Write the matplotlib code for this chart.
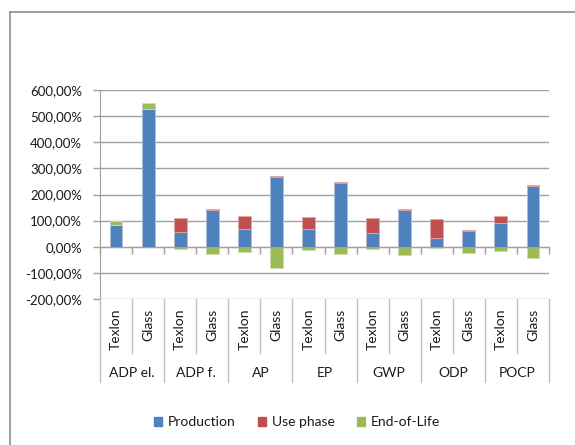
import matplotlib
matplotlib.use("Agg")
import matplotlib.pyplot as plt
from matplotlib.patches import Patch
from matplotlib.lines import Line2D
import matplotlib.transforms as mtransforms

plt.rcParams['font.family'] = ['Lato', 'DejaVu Sans']

# data (in %)
groups = ["ADP el.", "ADP f.", "AP", "EP", "GWP", "ODP", "POCP"]
variants = ["Texlon", "Glass"]
production = [82, 527, 58, 142, 69, 267, 69, 244, 54, 142, 32, 61, 89, 232]
use_phase = [3, 1, 52, 3, 49, 3, 45, 4, 56, 3, 74, 4, 27, 4]
end_of_life = [15, 22, -10, -29, -19, -82, -13, -27, -10, -33, -5, -24, -16, -43]

c_prod = "#4F81BD"
c_use = "#C0504D"
c_eol = "#9BBB59"
grid_c = "#A0A0A0"
sep_c = "#BFBFBF"
txt_c = "#1A1A1A"
fs = 10

W, H = 575, 445
fig = plt.figure(figsize=(W / 100, H / 100), dpi=100)
ax = fig.add_axes([100 / W, (H - 299) / H, 449 / W, 209 / H])

n = len(production)
x = [i + 0.5 for i in range(n)]
bw = 0.4
ax.bar(x, production, bw, color=c_prod, edgecolor="#A7C0DE", linewidth=0.6, zorder=3)
ax.bar(x, use_phase, bw, bottom=production, color=c_use, edgecolor="#E0A8A7",
       linewidth=0.6, zorder=3)
eol_bottom = [p + u if e > 0 else 0 for p, u, e in zip(production, use_phase, end_of_life)]
ax.bar(x, end_of_life, bw, bottom=eol_bottom, color=c_eol, edgecolor="#CDDDAC",
       linewidth=0.6, zorder=3)

ax.set_xlim(0, n)
ax.set_ylim(-200, 600)
ax.set_yticks(range(-200, 601, 100))
ax.set_yticklabels([f"{v:.2f}%".replace(".", ",") for v in range(-200, 601, 100)])
ax.yaxis.grid(True, color=grid_c, linewidth=1.0, zorder=0)
ax.set_axisbelow(True)

for s in ["top", "right"]:
    ax.spines[s].set_visible(False)
ax.spines["left"].set_color(grid_c)
ax.spines["bottom"].set_color(grid_c)
ax.spines["bottom"].set_position(("data", 0))
ax.spines["bottom"].set_zorder(4)
ax.set_xticks(range(n + 1))
ax.set_xticklabels([])
ax.tick_params(axis="x", length=5, color=grid_c, width=1.0)
ax.tick_params(axis="y", length=5, color=grid_c, width=1.0, pad=8,
               labelsize=9.5, labelcolor=txt_c)

# category axis below the plot
trans = mtransforms.blended_transform_factory(ax.transData, fig.transFigure)
y_top = (H - 299) / H
y_inner = (H - 353) / H
y_outer = (H - 382) / H
for i in range(n + 1):
    y_end = y_outer if i % 2 == 0 else y_inner
    fig.add_artist(Line2D([i, i], [y_top, y_end], transform=trans,
                          color=sep_c, linewidth=1.0))
for i in range(n):
    ax.text(x[i], (H - 309) / H, variants[i % 2], transform=trans, rotation=90,
            ha="center", va="top", fontsize=fs, color=txt_c)
for g, name in enumerate(groups):
    ax.text(2 * g + 1, (H - 373) / H, name, transform=trans, ha="center",
            va="center", fontsize=fs, color=txt_c)

# outer frame
fig.add_artist(Line2D([10 / W, 10 / W], [(H - 12) / H, 0], color="#8C8C8C", linewidth=1.2))
fig.add_artist(Line2D([10 / W, 1], [(H - 12) / H, (H - 12) / H], color="#8C8C8C", linewidth=1.2))

handles = [Patch(color=c_prod, label="Production"),
           Patch(color=c_use, label="Use phase"),
           Patch(color=c_eol, label="End-of-Life")]
fig.legend(handles=handles, loc="center", bbox_to_anchor=(297 / W, (H - 422) / H),
           ncol=3, frameon=False, fontsize=fs, handlelength=0.6, handleheight=0.6,
           handletextpad=0.4, columnspacing=1.6, labelcolor=txt_c)

fig.savefig("out.png", dpi=100)
